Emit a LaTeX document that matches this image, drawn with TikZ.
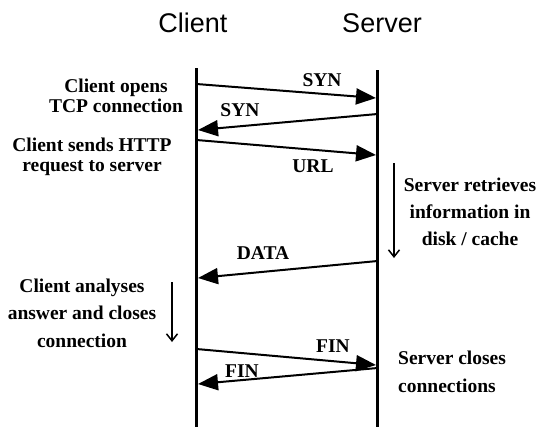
\documentclass[tikz,border=0pt]{standalone}
\usepackage{fontspec}
\setmainfont{Liberation Serif}
\newfontfamily\titlefont{Liberation Sans}
\usetikzlibrary{arrows.meta}
\begin{document}
\begin{tikzpicture}[x=1bp,y=-1bp,
  lifeline/.style={line width=3.5bp},
  msg/.style={line width=2bp,-{Triangle[length=20bp,width=16bp]}},
  proc/.style={line width=1.5bp,-{Straight Barb[length=7bp,width=11bp,line width=1.5bp]}},
  lbl/.style={font=\fontsize{19.5bp}{20bp}\selectfont\bfseries, inner sep=0pt},
  note/.style={lbl, align=center},
  ttl/.style={font=\titlefont\fontsize{27bp}{30bp}\selectfont, inner sep=0pt}]
\useasboundingbox[fill=white] (0,0) rectangle (541,427);
% titles
\node[ttl] (ct) at (193,23) {Client};
\node[ttl] (st) at (382,23) {Server};
% lifelines
\coordinate (c0) at (196.5,68);
\coordinate (c1) at (196.5,427);
\coordinate (v0) at (377.5,70);
\coordinate (v1) at (377.5,427);
\draw[lifeline] (c0) -- (c1);
\draw[lifeline] (v0) -- (v1);
% message end points
\coordinate (m1a) at (196.5,84);  \coordinate (m1b) at (376,98);
\coordinate (m2a) at (377.5,114); \coordinate (m2b) at (198,130);
\coordinate (m3a) at (196.5,140); \coordinate (m3b) at (376,155);
\coordinate (m4a) at (377.5,261); \coordinate (m4b) at (198,278);
\coordinate (m5a) at (196.5,349); \coordinate (m5b) at (376,365);
\coordinate (m6a) at (377.5,368); \coordinate (m6b) at (198,384);
\draw[msg] (m1a) -- (m1b);
\draw[msg] (m2a) -- (m2b);
\draw[msg] (m3a) -- (m3b);
\draw[msg] (m4a) -- (m4b);
\draw[msg] (m5a) -- (m5b);
\draw[msg] (m6a) -- (m6b);
% message labels
\node[lbl] (l1) at (322,80) {SYN};
\node[lbl] (l2) at (240,110) {SYN};
\node[lbl] (l3) at (313,166) {URL};
\node[lbl] (l4) at (263,253) {DATA};
\node[lbl] (l5) at (333,346) {FIN};
\node[lbl] (l6) at (242,371) {FIN};
% process arrows
\coordinate (p1a) at (394,163); \coordinate (p1b) at (394,258);
\coordinate (p2a) at (172,282); \coordinate (p2b) at (172,342);
\draw[proc] (p1a) -- (p1b);
\draw[proc] (p2a) -- (p2b);
% notes
\node[note, font=\fontsize{19.5bp}{19.5bp}\selectfont\bfseries] (n1) at (116,96) {Client opens\\TCP connection};
\node[note, font=\fontsize{19.5bp}{20bp}\selectfont\bfseries] (n2) at (92,157) {Client sends HTTP\\request to server};
\node[note, font=\fontsize{19.5bp}{27bp}\selectfont\bfseries] (n3) at (470,212) {Server retrieves\\information in\\disk / cache};
\node[note, font=\fontsize{19.5bp}{27.5bp}\selectfont\bfseries] (n4) at (82,313) {Client analyses\\answer and closes\\connection};
\node[lbl, align=left, anchor=west, font=\fontsize{19.5bp}{28bp}\selectfont\bfseries] (n5) at (398,372) {Server closes\\connections};
\end{tikzpicture}
\end{document}
